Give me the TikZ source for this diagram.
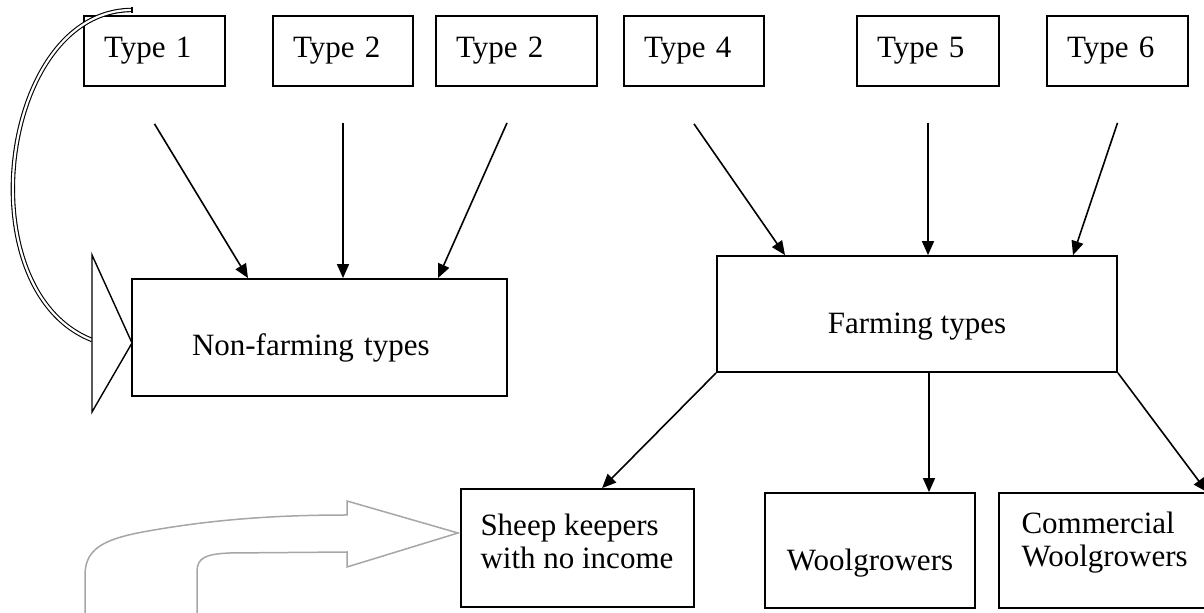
\documentclass[tikz,border=0pt]{standalone}
\usepackage{fontspec}
\setmainfont{Liberation Serif}
\usetikzlibrary{arrows.meta}
\begin{document}
\begin{tikzpicture}[x=0.5pt,y=-0.5pt,
  box/.style={draw,line width=0.9pt,inner ysep=0pt,font=\fontsize{15.5}{16.5}\selectfont},
  tbox/.style={box,inner xsep=10pt,align=left,minimum height=35pt},
  inlabel/.style={inner sep=0pt,anchor=north west,align=left,font=\fontsize{15.5}{16.5}\selectfont},
  arr/.style={line width=0.8pt,-{Triangle[length=7pt,width=6pt]}},
  blockarrow/.style={draw=black!35,line width=0.75pt,line join=miter},
]
\useasboundingbox (0,0) rectangle (1204,613);
% top type boxes
\node[tbox,text width=50.5pt] (t1) at (154.5,51) {Type 1};
\node[tbox,text width=50pt]   (t2) at (343,51)   {Type 2};
\node[tbox,text width=60.5pt] (t3) at (516.5,51) {Type 2};
\node[tbox,text width=50pt]   (t4) at (694,51)   {Type 4};
\node[tbox,text width=51pt]   (t5) at (928,51)   {Type 5};
\node[tbox,text width=50.5pt] (t6) at (1117.5,51) {Type 6};
% middle boxes
\node[box,inner xsep=30pt,text width=127.5pt,align=left,minimum height=58.5pt,text height=22pt,text depth=3.5pt] (nf) at (319.5,337.5) {Non-farming types};
\node[box,minimum width=200pt,minimum height=58pt,text height=23pt,text depth=3.5pt] (fa) at (917,314) {Farming types};
% bottom boxes
\node[box,minimum width=116.5pt,minimum height=59pt] (sh) at (577.5,548) {};
\node[inlabel] (shtext) at ([xshift=10pt,yshift=-12.5pt]sh.north west) {Sheep keepers\\with no income};
\node[box,minimum width=105pt,minimum height=57.5pt,text height=23.5pt,text depth=3.5pt] (wg) at (870,550.5) {Woolgrowers};
\node[box,minimum width=122pt,minimum height=57.5pt] (cw) at (1121,550.5) {};
\node[inlabel] (cwtext) at ([xshift=11.5pt,yshift=-9.5pt]cw.north west) {Commercial\\Woolgrowers};
% arrows into non-farming
\draw[arr] ([yshift=-18.5pt]t1.south) -- ([xshift=-35.75pt]nf.north);
\draw[arr] ([yshift=-18pt]t2.south) -- ([xshift=11.75pt]nf.north);
\draw[arr] ([xshift=-4.75pt,yshift=-18pt]t3.south) -- ([xshift=59.25pt]nf.north);
% arrows into farming
\draw[arr] ([yshift=-18.5pt]t4.south) -- ([xshift=-66pt]fa.north);
\draw[arr] ([yshift=-18pt]t5.south) -- ([xshift=5.5pt]fa.north);
\draw[arr] ([yshift=-18pt]t6.south) -- ([xshift=78pt]fa.north);
% arrows out of farming
\draw[arr] (fa.south west) -- ([xshift=71pt]sh.north west);
\draw[arr] ([xshift=6pt]fa.south) -- ([xshift=6pt]fa.south |- wg.north);
\draw[arr] (fa.south east) -- ([xshift=104.5pt]cw.north west);
% curved arrow at the left
\draw[line width=0.55pt,double=white,double distance=1.1pt] (132,10) .. controls (0,10) and (-35,290) .. (92,340);
\draw[line width=0.55pt] (132,7.3) -- (132,12.7);
\draw[line width=0.7pt,fill=white,line join=miter] (92,255) -- (132,343) -- (92,412) -- cycle;
% grey U-turn block arrow
\draw[blockarrow] (85,613) -- (85,575) .. controls (85,545) and (110,537) .. (160,529)
  .. controls (220,519) and (280,515) .. (347,515) -- (347,501) -- (458,533) -- (347,567) -- (347,552)
  -- (230,553) .. controls (205,554) and (197,558) .. (197,572) -- (197,613);
\end{tikzpicture}
\end{document}
